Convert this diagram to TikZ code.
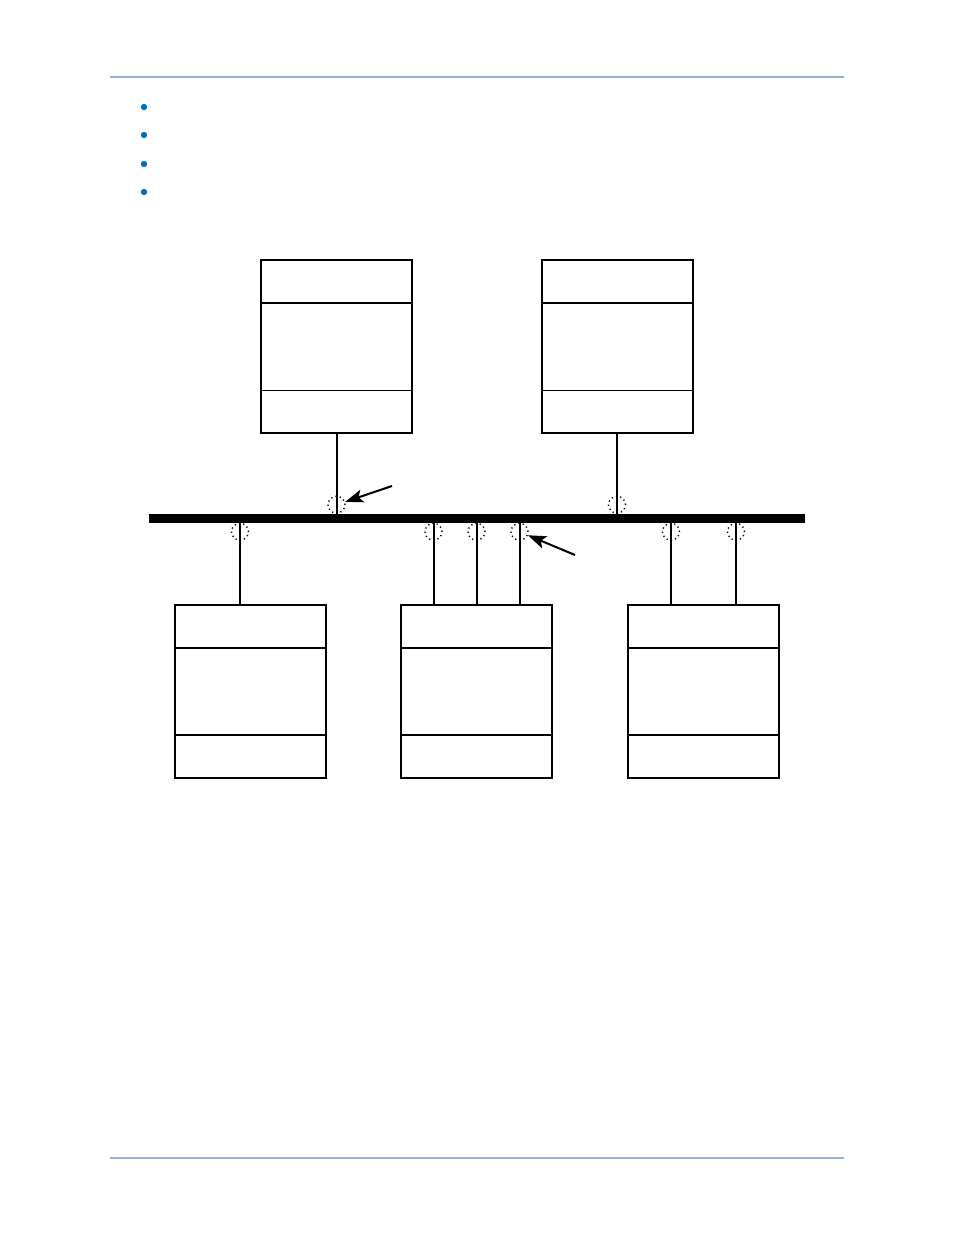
\documentclass[tikz,border=0pt]{standalone}
\usetikzlibrary{positioning}
\usetikzlibrary{shapes.geometric, arrows.meta}

\definecolor{rulecol}{HTML}{95B3D7}
\definecolor{dotcol}{HTML}{0070C0}

\tikzset{
    unit/.style={draw, line width=2pt, minimum width=151pt, minimum height=173pt, inner sep=0pt, outer sep=0pt},
    bus/.style={fill=black, minimum width=656pt, minimum height=9.5pt, inner sep=0pt, outer sep=0pt},
    tap/.style={circle, draw, line width=1.4pt, dash pattern=on 1.2pt off 3.2pt, minimum size=17pt, inner sep=0pt},
    link/.style={line width=2pt},
    pointer/.style={line width=2pt, -{Stealth[length=18pt,width=13pt,inset=4pt]}}
}

\begin{document}
\begin{tikzpicture}[x=1pt, y=-1pt]
        \useasboundingbox (0,0) rectangle (954,1235);
        % Page rules
        \draw[rulecol, line width=2pt] (110,77) -- (844,77);
        \draw[rulecol, line width=2pt] (110,1158) -- (844,1158);
        % Bullets
        \foreach \y in {107, 135, 164, 192}
            \fill[dotcol] (144,\y) circle (3.2pt);
        % Units
        \node[unit] (topL) at (336.5,346.5) {};
        \node[unit] (topR) at (617,346.5) {};
        \node[unit] (botL) at (250.5,691.5) {};
        \node[unit] (botM) at (476.5,691.5) {};
        \node[unit] (botR) at (703.5,691.5) {};
        % Dividers
        \foreach \u in {topL, topR} {
            \draw[line width=2pt] ([yshift=-43pt]\u.north west) -- ([yshift=-43pt]\u.north east);
            \draw[line width=1pt] ([yshift=43pt]\u.south west) -- ([yshift=43pt]\u.south east);
        }
        \foreach \u in {botL, botM, botR} {
            \draw[line width=2pt] ([yshift=-43pt]\u.north west) -- ([yshift=-43pt]\u.north east);
            \draw[line width=2pt] ([yshift=43pt]\u.south west) -- ([yshift=43pt]\u.south east);
        }
        % Bus
        \node[bus] (bus) at (477,518.5) {};
        % Connection points
        \coordinate (jA) at (topL.south |- bus.north);
        \coordinate (jB) at (topR.south |- bus.north);
        \coordinate (bL) at ([xshift=-10.5pt]botL.north);
        \coordinate (bM1) at ([xshift=-43pt]botM.north);
        \coordinate (bM2) at (botM.north);
        \coordinate (bM3) at ([xshift=43pt]botM.north);
        \coordinate (bR1) at ([xshift=-32.5pt]botR.north);
        \coordinate (bR2) at ([xshift=32.5pt]botR.north);
        \foreach \c/\n in {bL/jC, bM1/jD, bM2/jE, bM3/jF, bR1/jG, bR2/jH}
            \coordinate (\n) at (\c |- bus.south);
        % Links
        \draw[link] (topL.south) -- (jA);
        \draw[link] (topR.south) -- (jB);
        \foreach \c/\n in {bL/jC, bM1/jD, bM2/jE, bM3/jF, bR1/jG, bR2/jH}
            \draw[link] (\c) -- (\n);
        % Taps
        \node[tap] (tapA) at ([yshift=9pt]jA) {};
        \node[tap] (tapB) at ([yshift=9pt]jB) {};
        \foreach \n in {C, D, E, F, G, H}
            \node[tap] (tap\n) at ([yshift=-8.5pt]j\n) {};
        % Pointers
        \coordinate (pA) at (392,486);
        \coordinate (pB) at (575,555);
        \draw[pointer] (pA) -- (tapA);
        \draw[pointer] (pB) -- (tapF);
    \end{tikzpicture}
\end{document}
